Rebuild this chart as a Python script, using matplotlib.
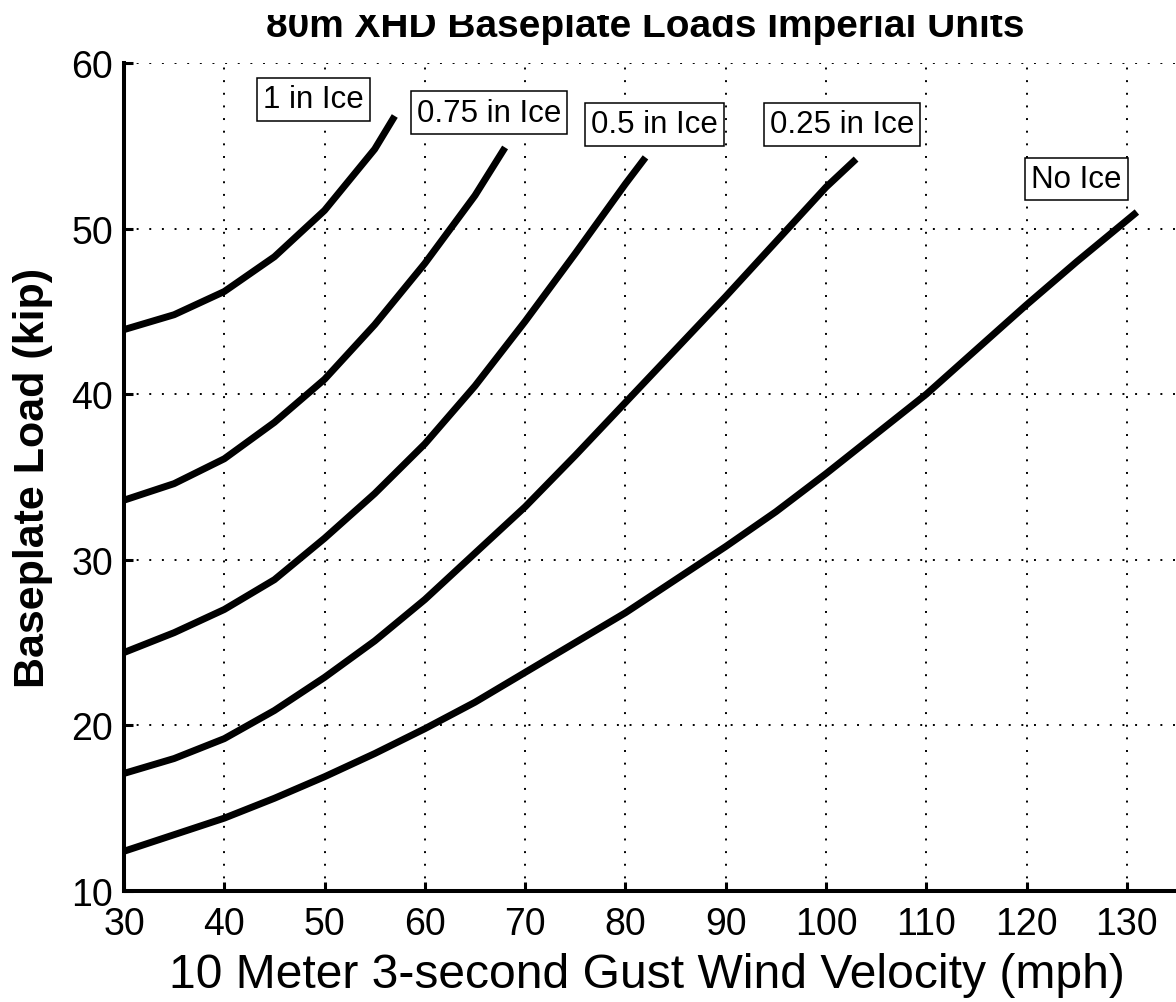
import matplotlib
matplotlib.use('Agg')
import matplotlib.pyplot as plt
from matplotlib.patches import Rectangle

plt.rcParams['font.family'] = ['Liberation Sans', 'DejaVu Sans']

# 3-second gust wind velocity (mph) vs baseplate load (kip), one series per ice thickness
v_none = [30, 35, 40, 45, 50, 55, 60, 65, 70, 75, 80, 85, 90, 95, 100, 105, 110, 115, 120, 125, 130, 131]
load_none = [12.4, 13.4, 14.4, 15.6, 16.9, 18.3, 19.8, 21.4, 23.2, 25.0, 26.8, 28.8, 30.8, 32.9,
             35.2, 37.6, 40.0, 42.7, 45.4, 48.0, 50.5, 51.0]

v_025 = [30, 35, 40, 45, 50, 55, 60, 65, 70, 75, 80, 85, 90, 95, 100, 103]
load_025 = [17.1, 18.0, 19.2, 20.9, 22.9, 25.1, 27.6, 30.4, 33.2, 36.3, 39.5, 42.7, 45.9, 49.2, 52.5, 54.2]

v_05 = [30, 35, 40, 45, 50, 55, 60, 65, 70, 75, 80, 82]
load_05 = [24.4, 25.6, 27.0, 28.8, 31.3, 34.0, 37.0, 40.5, 44.4, 48.5, 52.7, 54.3]

v_075 = [30, 35, 40, 45, 50, 55, 60, 65, 68]
load_075 = [33.6, 34.6, 36.1, 38.3, 40.9, 44.2, 47.9, 52.0, 54.9]

v_1 = [30, 35, 40, 45, 50, 55, 57]
load_1 = [43.9, 44.8, 46.2, 48.3, 51.1, 54.8, 56.8]

names = ['No Ice', '0.25 in Ice', '0.5 in Ice', '0.75 in Ice', '1 in Ice']
xticks = [30, 40, 50, 60, 70, 80, 90, 100, 110, 120, 130]
yticks = [10, 20, 30, 40, 50, 60]

fig = plt.figure(figsize=(11.76, 10.03), dpi=100)
ax = fig.add_axes([124 / 1176, 111 / 1003, 1053 / 1176, 828 / 1003])

series = [(v_none, load_none), (v_025, load_025), (v_05, load_05), (v_075, load_075), (v_1, load_1)]
for v, load in series:
    ax.plot(v, load, color='black', linewidth=5, solid_capstyle='butt',
            solid_joinstyle='round', zorder=3)

# text boxes placed above the curve ends
label_at = [(125.0, 53.0), (101.6, 56.3), (82.9, 56.3), (66.4, 57.0), (48.9, 57.8)]
for name, (lx, ly) in zip(names, label_at):
    ax.text(lx, ly, name, ha='center', va='center', fontsize=22.5, zorder=4,
            bbox=dict(boxstyle='square,pad=0.2', fc='white', ec='black', lw=1.1))

ax.set_xlim(30, 135)
ax.set_ylim(10, 60)
ax.set_xticks(xticks)
ax.set_yticks(yticks)
ax.tick_params(direction='in', length=6.5, width=2.2, labelsize=27, colors='black')
ax.tick_params(axis='x', pad=11)
ax.tick_params(axis='y', pad=8)
ax.grid(True, color='black', linestyle=(0, (1, 5.5)), linewidth=1.4)
ax.set_axisbelow(True)

for side in ['top', 'right']:
    ax.spines[side].set_visible(False)
for side in ['left', 'bottom']:
    ax.spines[side].set_linewidth(2.9)

ax.set_xlabel('10 Meter 3-second Gust Wind Velocity (mph)', fontsize=34.6, va='baseline')
ax.xaxis.set_label_coords(0.497, -0.116)
ax.set_ylabel('Baseplate Load (kip)', fontsize=31, fontweight='bold', va='baseline')
ax.yaxis.set_label_coords(-0.076, 0.5)

fig.text(645 / 1176, 1 - 37 / 1003, '80m XHD Baseplate Loads Imperial Units',
         ha='center', va='baseline', fontsize=28, fontweight='bold')
# white strip across the very top edge
fig.add_artist(Rectangle((0, 1 - 16 / 1003), 1, 16 / 1003, transform=fig.transFigure,
                         facecolor='white', edgecolor='none', zorder=10))

fig.savefig('out.png', dpi=100)
